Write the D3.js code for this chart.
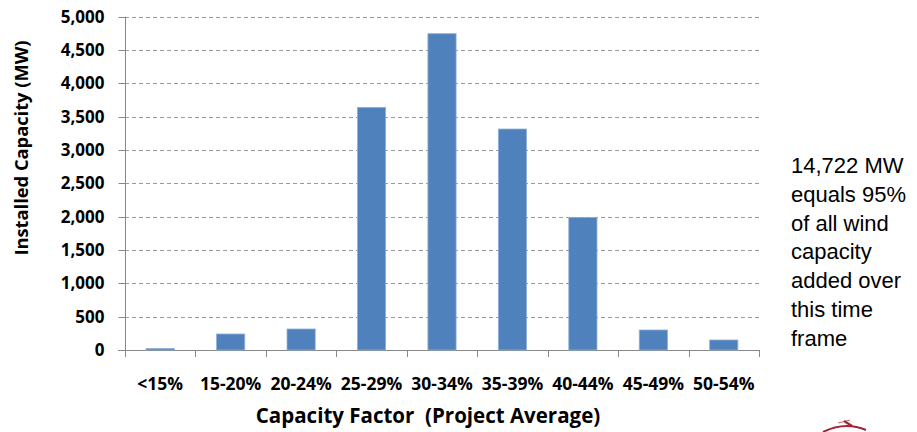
<!DOCTYPE html>
<html>
<head>
<meta charset="utf-8">
<script src="https://cdn.jsdelivr.net/npm/d3@7"></script>
<style>
  html, body { margin: 0; padding: 0; background: #fff; }
  svg { display: block; }
</style>
</head>
<body>
<svg id="chart" width="917" height="432"></svg>
<script>
const categories = ["<15%", "15-20%", "20-24%", "25-29%", "30-34%", "35-39%", "40-44%", "45-49%", "50-54%"];
const capacityMW = [22, 240, 315, 3640, 4745, 3315, 1990, 300, 150];
const yTicks = [0, 500, 1000, 1500, 2000, 2500, 3000, 3500, 4000, 4500, 5000];
const yTitle = "Installed Capacity (MW)";
const xTitle = "Capacity Factor  (Project Average)";
const noteLines = ["14,722 MW", "equals 95%", "of all wind", "capacity", "added over", "this time", "frame"];

(function () {
const svg = d3.select("#chart");
const pLeft = 125, pRight = 759, pTop = 16.7, pBottom = 350;
const font = "'Open Sans', 'Noto Sans', sans-serif";

const x = d3.scaleBand().domain(categories).range([pLeft, pRight]).paddingInner(0.6).paddingOuter(0.3);
const y = d3.scaleLinear().domain([0, 5000]).range([pBottom, pTop]);

// gridlines
svg.append("g")
  .selectAll("line")
  .data(yTicks.filter(d => d > 0))
  .join("line")
  .attr("x1", pLeft).attr("x2", pRight)
  .attr("y1", d => Math.round(y(d)) + 0.5).attr("y2", d => Math.round(y(d)) + 0.5)
  .attr("stroke", "#9a9a9a").attr("stroke-width", 1).attr("stroke-dasharray", "4,3");

// y axis
const yAxis = svg.append("g").attr("transform", `translate(${pLeft + 0.5},0)`)
  .call(d3.axisLeft(y).tickValues(yTicks).tickSize(7).tickPadding(14).tickFormat(d3.format(",")));
yAxis.select(".domain").attr("stroke", "#888").attr("d", `M0,${pTop}V${pBottom + 7}`);
yAxis.selectAll(".tick line").attr("stroke", "#888");
yAxis.selectAll(".tick").attr("transform", d => `translate(0,${Math.round(y(d)) + 0.5})`);
yAxis.selectAll(".tick text").attr("font-family", font).attr("font-weight", "bold")
  .attr("font-size", 17).attr("fill", "#000");

// x axis
const xAxis = svg.append("g").attr("transform", `translate(0,${pBottom + 0.5})`)
  .call(d3.axisBottom(x).tickSize(0).tickPadding(27));
xAxis.select(".domain").attr("stroke", "#888").attr("d", `M${pLeft - 7},0H${pRight}`);
xAxis.selectAll(".tick text").attr("font-family", font).attr("font-weight", "bold")
  .attr("font-size", 17.5).attr("fill", "#000");
// category boundary ticks
const boundaries = d3.range(categories.length + 1).map(i => pLeft + i * (pRight - pLeft) / categories.length);
svg.append("g").selectAll("line").data(boundaries).join("line")
  .attr("x1", d => Math.round(d) + 0.5).attr("x2", d => Math.round(d) + 0.5)
  .attr("y1", pBottom).attr("y2", pBottom + 7)
  .attr("stroke", "#888");

// bars
svg.append("g").selectAll("rect")
  .data(categories.map((c, i) => ({ c, v: capacityMW[i] })))
  .join("rect")
  .attr("x", d => x(d.c))
  .attr("width", x.bandwidth())
  .attr("y", d => y(d.v))
  .attr("height", d => y(0) - y(d.v))
  .attr("fill", "#4F81BD")
  .attr("stroke", "#8eb0d8").attr("stroke-width", 0.8);

// axis titles
svg.append("text")
  .attr("transform", `translate(28,148) rotate(-90)`)
  .attr("text-anchor", "middle")
  .attr("font-family", font).attr("font-weight", "bold").attr("font-size", 18.3)
  .text(yTitle);

svg.append("text")
  .attr("x", 428).attr("y", 423)
  .attr("text-anchor", "middle")
  .attr("font-family", font).attr("font-weight", "bold").attr("font-size", 20.5)
  .style("white-space", "pre")
  .text(xTitle);

// annotation
svg.append("g").selectAll("text").data(noteLines).join("text")
  .attr("x", 791).attr("y", (d, i) => 173 + i * 28.8)
  .attr("font-family", "'Liberation Sans', Arial, sans-serif").attr("font-size", 22)
  .attr("fill", "#000")
  .text(d => d);

// partial logo at bottom right
const logo = svg.append("g").attr("fill", "none").attr("stroke", "#A3243B");
logo.append("path").attr("d", "M823,432 Q845,421 866,430").attr("stroke-width", 2);
logo.append("path").attr("d", "M838,423 L850,420").attr("stroke-width", 1.2).attr("stroke", "#c46a7a");
logo.append("path").attr("d", "M844,421 L852,426").attr("stroke-width", 2.2);
})();
</script>
</body>
</html>
